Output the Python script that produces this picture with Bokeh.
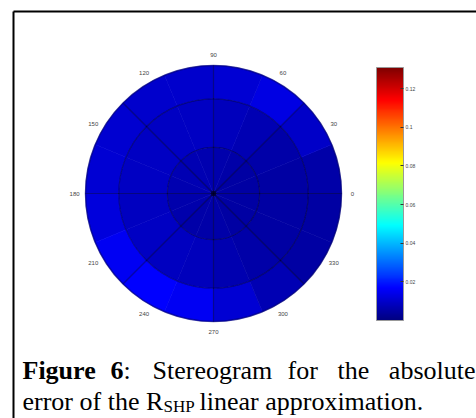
import numpy as np
from bokeh.plotting import figure
from bokeh.models import (LinearColorMapper, ColorBar, FixedTicker,
                          CustomJSTickFormatter, Label,
                          ColumnDataSource, Range1d)
from bokeh.core.properties import value
from bokeh.embed import file_html
from bokeh.resources import INLINE

# ---- data: absolute error on a polar (azimuth x radius) grid ----
# azimuth sectors, start angle in degrees (counter-clockwise from east)
sector_start = [0.0, 22.5, 45.0, 67.5, 90.0, 112.5, 135.0, 157.5,
                180.0, 202.5, 225.0, 247.5, 270.0, 292.5, 315.0, 337.5]
sector_width = 22.5
# radial ring edges (normalised stereographic radius)
ring_edges = [0.0, 0.36, 0.74, 1.0]
# error per sector, for each ring
err_inner = [0.0050, 0.0050, 0.0054, 0.0058, 0.0064, 0.0068, 0.0068, 0.0064,
             0.0060, 0.0058, 0.0056, 0.0054, 0.0052, 0.0048, 0.0048, 0.0048]
err_middle = [0.0050, 0.0056, 0.0070, 0.0080, 0.0088, 0.0090, 0.0090, 0.0088,
              0.0086, 0.0088, 0.0086, 0.0078, 0.0064, 0.0052, 0.0048, 0.0048]
err_outer = [0.0055, 0.0095, 0.0130, 0.0110, 0.0100, 0.0102, 0.0105, 0.0108,
             0.0118, 0.0150, 0.0165, 0.0150, 0.0112, 0.0068, 0.0050, 0.0050]

# colour scale
err_min, err_max = 0.0, 0.131
cbar_ticks = [0.02, 0.04, 0.06, 0.08, 0.1, 0.12]

# azimuth labels and grid
azimuth_labels = [0, 30, 60, 90, 120, 150, 180, 210, 240, 270, 300, 330]
grid_circles = [0.36, 0.74]
grid_spokes = [0, 45, 90, 135, 180, 225, 270, 315]


def jet(n=256):
    t = np.linspace(0, 1, n)
    r = np.clip(1.5 - np.abs(4 * t - 3), 0, 1)
    g = np.clip(1.5 - np.abs(4 * t - 2), 0, 1)
    b = np.clip(1.5 - np.abs(4 * t - 1), 0, 1)
    return ["#%02x%02x%02x" % (int(round(255 * a)), int(round(255 * c)), int(round(255 * d)))
            for a, c, d in zip(r, g, b)]


W, H = 476, 418
cx_px, cy_px, rad_px = 213, 193, 128  # disk centre / radius on the canvas


def px_x(px):
    return (px - cx_px) / rad_px


def px_y(py):
    return (cy_px - py) / rad_px


p = figure(width=W, height=H, output_backend="svg", toolbar_location=None,
           x_range=Range1d(px_x(0), px_x(W)), y_range=Range1d(px_y(H), px_y(0)),
           min_border=0, outline_line_color=None)
p.axis.visible = False
p.grid.visible = False
p.background_fill_color = "white"
p.border_fill_color = "white"

mapper = LinearColorMapper(palette=jet(), low=err_min, high=err_max)

# polar cells
rings = [err_inner, err_middle, err_outer]
r0, r1, a0, a1, vals = [], [], [], [], []
for i, ring in enumerate(rings):
    for s, v in zip(sector_start, ring):
        r0.append(ring_edges[i])
        r1.append(ring_edges[i + 1])
        a0.append(s)
        a1.append(s + sector_width)
        vals.append(v)
src = ColumnDataSource(dict(r0=r0, r1=r1, a0=a0, a1=a1, v=vals))
p.annular_wedge(x=0, y=0, inner_radius="r0", outer_radius="r1",
                start_angle="a0", end_angle="a1",
                start_angle_units="deg", end_angle_units="deg",
                source=src,
                fill_color={"field": "v", "transform": mapper},
                line_color={"field": "v", "transform": mapper}, line_width=0.6)

# stereonet grid
p.circle(x=[0] * len(grid_circles), y=[0] * len(grid_circles), radius=grid_circles,
         fill_color=None, line_color="black", line_alpha=0.35, line_width=1.2)
sp = np.deg2rad(grid_spokes)
p.segment(x0=0, y0=0, x1=np.cos(sp), y1=np.sin(sp),
          line_color="black", line_alpha=0.35, line_width=1.2)
p.circle(x=[0], y=[0], radius=[1.0], fill_color=None,
         line_color="#00006e", line_alpha=0.6, line_width=1.5)
p.scatter(x=[0], y=[0], size=5, color="black", alpha=0.4)

# azimuth labels around the disk
al = np.deg2rad(azimuth_labels)
p.text(x=1.085 * np.cos(al), y=1.085 * np.sin(al), text=[str(a) for a in azimuth_labels],
       text_font=value("Liberation Sans"), text_font_size="6px", text_color="#444444",
       text_align="center", text_baseline="middle")

# colour bar
cb = ColorBar(color_mapper=mapper, ticker=FixedTicker(ticks=cbar_ticks),
              formatter=CustomJSTickFormatter(code="return tick.toFixed(2).replace(/0$/, '')"),
              width=27, height=253, location=(376, H - 320), padding=0, margin=0,
              major_label_text_font_size="5px", major_label_text_color="#444444",
              major_label_text_font="Liberation Sans",
              label_standoff=2, major_tick_in=3, major_tick_out=0,
              major_tick_line_color="#333333", bar_line_color="#999999",
              background_fill_alpha=0, border_line_color=None)
p.add_layout(cb)

# page frame: top and left rules
p.segment(x0=[px_x(13), px_x(13)], y0=[px_y(11), px_y(11)],
          x1=[px_x(W + 5), px_x(13)], y1=[px_y(11), px_y(H + 5)],
          line_color="black", line_width=2)

# caption (first line justified word by word)
serif = "Liberation Serif"
fs = "26px"
base1 = H - 378 + 8
base2 = H - 409 + 8
line1 = [("Figure", 22, "bold", "left"), ("6", 110, "bold", "left"),
         (":", 123, "normal", "left"), ("Stereogram", 152, "normal", "left"),
         ("for", 287, "normal", "left"), ("the", 337, "normal", "left"),
         ("absolute", 475, "normal", "right")]
for txt, x, style, align in line1:
    p.add_layout(Label(x=x, y=base1, x_units="screen", y_units="screen", text=txt,
                       text_font=serif, text_font_size=fs, text_font_style=style,
                       text_align=align, text_color="black", text_baseline="alphabetic"))
p.add_layout(Label(x=22, y=base2, x_units="screen", y_units="screen",
                   text="error of the R", text_font=serif, text_font_size=fs,
                   text_color="black", text_baseline="alphabetic"))
p.add_layout(Label(x=163, y=base2 - 5, x_units="screen", y_units="screen",
                   text="SHP", text_font=serif, text_font_size="17px",
                   text_color="black", text_baseline="alphabetic"))
p.add_layout(Label(x=199, y=base2, x_units="screen", y_units="screen",
                   text="linear approximation.", text_font=serif, text_font_size=fs,
                   text_color="black", text_baseline="alphabetic"))

open("out.html", "w").write(file_html(p, INLINE))
